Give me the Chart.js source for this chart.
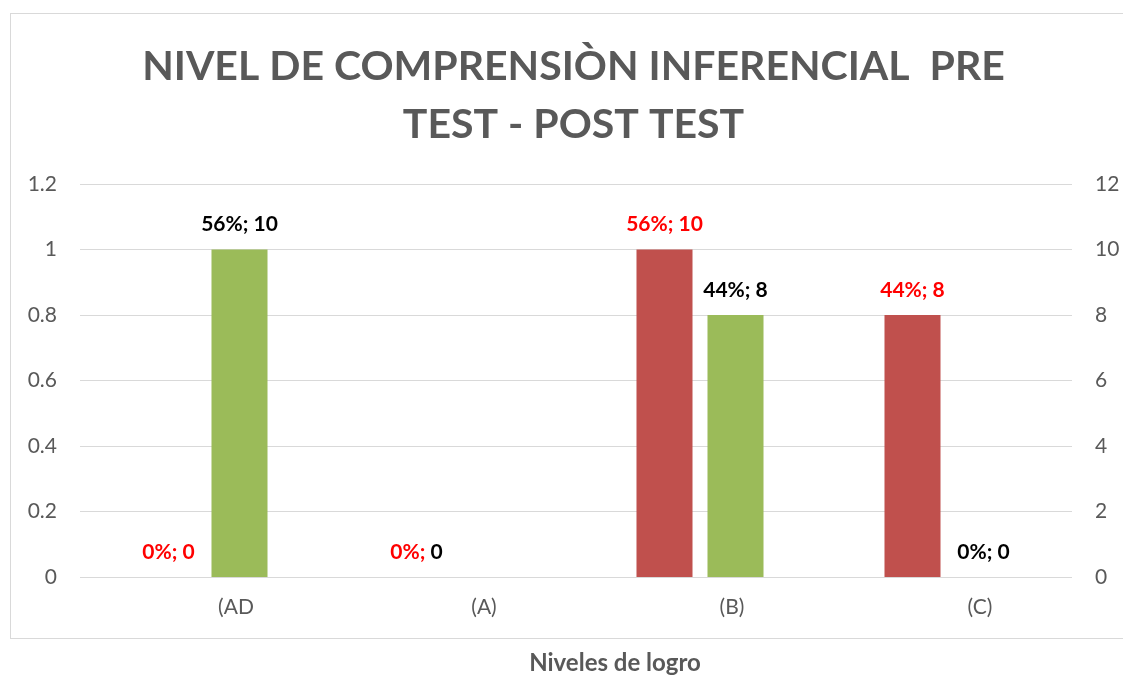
<!DOCTYPE html>
<html>
<head>
<meta charset="utf-8">
<script src="https://cdn.jsdelivr.net/npm/chart.js@4.4.0/dist/chart.umd.min.js"></script>
<style>
  body { margin: 0; background: #fff; }
  #wrap { width: 1123px; height: 675px; }
</style>
</head>
<body>
<div id="wrap"><canvas id="nivelChart" width="1123" height="675"></canvas></div>
<script>
const categories = ["(AD", "(A)", "(B)", "(C)"];
const preTest = [0, 0, 10, 8];
const postTest = [10, 0, 8, 0];
const prePct = ["0%", "0%", "56%", "44%"];
const postPct = ["56%", "0%", "44%", "0%"];
// the (A) label mixes colours in the original, post label there is hidden
const preValueColors = ["#FF0000", "#000000", "#FF0000", "#FF0000"];
const showPostLabel = [true, false, true, true];
const leftTicks = [0, 0.2, 0.4, 0.6, 0.8, 1, 1.2];

const FONT = "Lato, 'Open Sans', sans-serif";
const GRAY = "#595959";

// Data labels like "56%; 10" above each bar
const barLabels = {
  id: "barLabels",
  afterDatasetsDraw(chart) {
    const ctx = chart.ctx;
    ctx.save();
    ctx.font = "bold 21px " + FONT;
    ctx.textBaseline = "middle";
    chart.data.datasets.forEach((ds, di) => {
      const meta = chart.getDatasetMeta(di);
      meta.data.forEach((bar, i) => {
        let pctColor, valColor, pct;
        if (di === 0) {
          pct = prePct[i]; pctColor = "#FF0000"; valColor = preValueColors[i];
        } else {
          if (!showPostLabel[i]) return;
          pct = postPct[i]; pctColor = "#000000"; valColor = "#000000";
        }
        const a = pct + "; ";
        const b = String(ds.data[i]);
        const wa = ctx.measureText(a).width;
        const wb = ctx.measureText(b).width;
        const x0 = bar.x - (wa + wb) / 2;
        const y = bar.y - 25;
        ctx.textAlign = "left";
        ctx.fillStyle = pctColor;
        ctx.fillText(a, x0, y);
        ctx.fillStyle = valColor;
        ctx.fillText(b, x0 + wa, y);
      });
    });
    ctx.restore();
  }
};

// outer frame and the axis title under it
const frame = {
  id: "frame",
  beforeDraw(chart) {
    const ctx = chart.ctx;
    ctx.save();
    ctx.strokeStyle = "#d9d9d9";
    ctx.lineWidth = 1;
    ctx.strokeRect(10.5, 13.5, 1200, 625);
    ctx.restore();
  },
  afterDraw(chart) {
    const ctx = chart.ctx;
    ctx.save();
    ctx.font = "bold 24px " + FONT;
    ctx.fillStyle = GRAY;
    ctx.textAlign = "center";
    ctx.textBaseline = "middle";
    ctx.fillText("Niveles de logro", 615, 663);
    ctx.restore();
  }
};

const ctx = document.getElementById("nivelChart").getContext("2d");

new Chart(ctx, {
  type: "bar",
  data: {
    labels: categories,
    datasets: [
      {
        label: "PRE TEST",
        data: preTest,
        backgroundColor: "#C0504D",
        yAxisID: "y2",
        categoryPercentage: 0.5726,
        barPercentage: 0.789
      },
      {
        label: "POST TEST",
        data: postTest,
        backgroundColor: "#9BBB59",
        yAxisID: "y2",
        categoryPercentage: 0.5726,
        barPercentage: 0.789
      }
    ]
  },
  options: {
    responsive: false,
    animation: false,
    layout: { padding: { top: 13, bottom: 0, left: 24, right: 0 } },
    plugins: {
      legend: { display: false },
      tooltip: { enabled: false },
      title: {
        display: true,
        text: ["NIVEL DE COMPRENSIÒN INFERENCIAL  PRE", "TEST - POST TEST"],
        color: GRAY,
        font: { family: FONT, size: 41, weight: "bold", lineHeight: 1.415 },
        padding: { top: 25, bottom: 30 }
      }
    },
    scales: {
      x: {
        grid: { display: false },
        border: { display: false },
        ticks: {
          color: GRAY,
          font: { family: FONT, size: 21 },
          padding: 10,
          labelOffset: 32
        },
        afterFit(scale) { scale.height = 98; }
      },
      y: {
        position: "left",
        min: 0,
        max: 1.2,
        afterBuildTicks(scale) {
          scale.ticks = leftTicks.map(v => ({ value: v }));
        },
        grid: { color: "#d9d9d9", drawTicks: false },
        border: { display: false },
        ticks: {
          color: GRAY,
          font: { family: FONT, size: 21 },
          padding: 23,
          callback: v => String(+v.toFixed(1))
        },
        afterFit(scale) { scale.width = 56; }
      },
      y2: {
        position: "right",
        min: 0,
        max: 12,
        grid: { display: false, drawTicks: false },
        border: { display: false },
        ticks: {
          stepSize: 2,
          color: GRAY,
          font: { family: FONT, size: 21 },
          padding: 23
        },
        afterFit(scale) { scale.width = 51; }
      }
    }
  },
  plugins: [barLabels, frame]
});
</script>
</body>
</html>
